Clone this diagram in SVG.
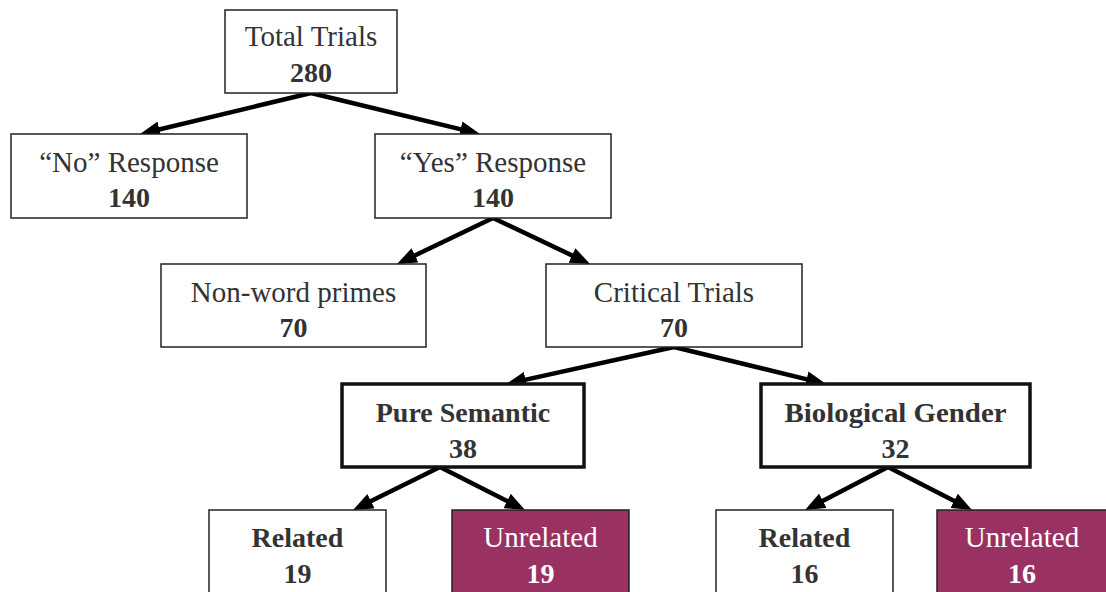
<svg xmlns="http://www.w3.org/2000/svg" width="1106" height="592" viewBox="0 0 1106 592">
<style>
.box{fill:#fff;stroke:#222;stroke-width:1.5}
.thick{fill:#fff;stroke:#111;stroke-width:3.5}
.purple{fill:#993263;stroke:#222;stroke-width:1.5}
text{font-family:"Liberation Serif","Times New Roman",serif;font-size:29px;text-anchor:middle;fill:#333}
.b{font-weight:bold;font-size:28px}
.w{fill:#fff}
.conn line{stroke:#000;stroke-width:4.5}
</style>
<defs>
<marker id="ah" viewBox="0 0 20 16" markerWidth="20" markerHeight="16" refX="10" refY="8" orient="auto" markerUnits="userSpaceOnUse">
<path d="M0,0 L20,8 L0,16 z" fill="#000"/>
</marker>
</defs>
<rect width="1106" height="592" fill="#fff"/>
<g class="conn">
<line x1="311" y1="93" x2="149.7" y2="131.7" marker-end="url(#ah)"/>
<line x1="311" y1="93" x2="470.3" y2="131.6" marker-end="url(#ah)"/>
<line x1="493" y1="218" x2="406" y2="259.7" marker-end="url(#ah)"/>
<line x1="493" y1="218" x2="581" y2="259.7" marker-end="url(#ah)"/>
<line x1="674" y1="347" x2="515.8" y2="381.9" marker-end="url(#ah)"/>
<line x1="674" y1="347" x2="816.3" y2="381.6" marker-end="url(#ah)"/>
<line x1="440" y1="467" x2="362" y2="505.6" marker-end="url(#ah)"/>
<line x1="440" y1="467" x2="516.1" y2="505.5" marker-end="url(#ah)"/>
<line x1="888" y1="467" x2="813.9" y2="505.4" marker-end="url(#ah)"/>
<line x1="888" y1="467" x2="963.1" y2="505.4" marker-end="url(#ah)"/>
</g>
<g id="total">
<rect class="box" x="225" y="10" width="172" height="83"/>
<text x="311" y="46">Total Trials</text>
<text class="b" x="311" y="82">280</text>
</g>
<g id="no">
<rect class="box" x="11" y="134" width="236" height="84"/>
<text x="129" y="172">“No” Response</text>
<text class="b" x="129" y="207">140</text>
</g>
<g id="yes">
<rect class="box" x="375" y="134" width="236" height="84"/>
<text x="493" y="172">“Yes” Response</text>
<text class="b" x="493" y="207">140</text>
</g>
<g id="nonword">
<rect class="box" x="161" y="264" width="265" height="83"/>
<text x="293.5" y="302">Non-word primes</text>
<text class="b" x="293.5" y="337">70</text>
</g>
<g id="critical">
<rect class="box" x="546" y="264" width="256" height="83"/>
<text x="674" y="302">Critical Trials</text>
<text class="b" x="674" y="337">70</text>
</g>
<g id="pure">
<rect class="thick" x="342" y="384" width="242" height="83"/>
<text class="b" x="463" y="422">Pure Semantic</text>
<text class="b" x="463" y="458">38</text>
</g>
<g id="bio">
<rect class="thick" x="761" y="384" width="269" height="83"/>
<text class="b" x="895.5" y="422" textLength="222" lengthAdjust="spacingAndGlyphs">Biological Gender</text>
<text class="b" x="895.5" y="458">32</text>
</g>
<g id="rel19">
<rect class="box" x="209" y="510" width="177" height="100"/>
<text class="b" x="297.5" y="547">Related</text>
<text class="b" x="297.5" y="583">19</text>
</g>
<g id="unrel19">
<rect class="purple" x="452" y="510" width="177" height="100"/>
<text class="w" x="540.5" y="547">Unrelated</text>
<text class="b w" x="540.5" y="583">19</text>
</g>
<g id="rel16">
<rect class="box" x="716" y="510" width="177" height="100"/>
<text class="b" x="804.5" y="547">Related</text>
<text class="b" x="804.5" y="583">16</text>
</g>
<g id="unrel16">
<rect class="purple" x="937" y="510" width="177" height="100"/>
<text class="w" x="1022" y="547">Unrelated</text>
<text class="b w" x="1022" y="583">16</text>
</g>
</svg>
